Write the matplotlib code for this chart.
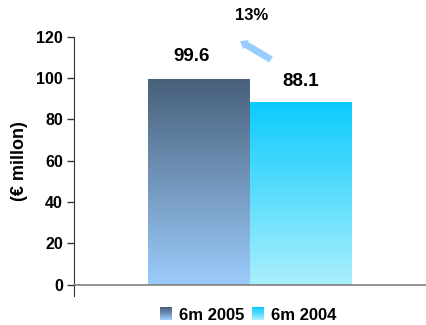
import numpy as np
import matplotlib
matplotlib.use("Agg")
import matplotlib.pyplot as plt
from matplotlib.colors import LinearSegmentedColormap
from matplotlib.patches import Rectangle
from matplotlib.legend_handler import HandlerBase

plt.rcParams['font.family'] = ['Liberation Sans', 'DejaVu Sans']
plt.rcParams['font.weight'] = 'bold'

categories = ["6m 2005", "6m 2004"]
values = [99.6, 88.1]
value_labels = ["99.6", "88.1"]
growth_label = "13%"
y_ticks = [0, 20, 40, 60, 80, 100, 120]
y_label = "(€ millon)"

# gradient colours (top, bottom)
grads = [("#48607a", "#9cccfc"), ("#0ccbfc", "#aaeffd")]

fig = plt.figure(figsize=(4.26, 3.25), dpi=100)
ax = fig.add_axes([0.174, 0.09, 0.826, 0.797])

x = np.arange(len(categories))
width = 1.0
bars = ax.bar(x, values, width=width, color='none', edgecolor='none', zorder=2)

for b, (top, bot) in zip(bars, grads):
    cmap = LinearSegmentedColormap.from_list("g", [bot, top])
    grad = np.linspace(0, 1, 256).reshape(-1, 1)
    x0, y0 = b.get_x(), b.get_y()
    w, h = b.get_width(), b.get_height()
    ax.imshow(grad, cmap=cmap, origin='lower', aspect='auto',
              extent=[x0, x0 + w, y0, y0 + h], zorder=2)

ax.set_xlim(-1.225, 2.226)
ax.set_ylim(-5.3, 120)
ax.set_yticks(y_ticks)
ax.set_yticklabels([str(t) for t in y_ticks], fontsize=11.5, fontweight='bold')
ax.set_xticks([])
ax.tick_params(axis='y', direction='out', length=5, width=1, color='#333333', pad=3)
for s in ['top', 'right', 'bottom']:
    ax.spines[s].set_visible(False)
ax.spines['left'].set_color('#333333')
ax.axhline(0, color='#808080', lw=1.2, zorder=3)

# value labels
ax.text(x[0] - 0.07, 110.5, value_labels[0], ha='center', va='center',
        fontsize=13.5, fontweight='bold')
ax.text(x[1] + 0.0, 98.5, value_labels[1], ha='center', va='center',
        fontsize=13.5, fontweight='bold')

# growth arrow and label
fig.text(252 / 426, 1 - 16 / 325, growth_label, ha='center', va='center',
         fontsize=12, fontweight='bold')
ax.annotate("", xy=(0.38, 118.5), xytext=(0.73, 108.3),
            arrowprops=dict(arrowstyle="simple,head_width=0.8,head_length=0.5,tail_width=0.5",
                            color="#99ccff", lw=0), annotation_clip=False)

fig.text(20 / 426, 1 - 161 / 325, y_label, rotation=90, ha='center', va='center',
         fontsize=13, fontweight='bold')


class GradHandler(HandlerBase):
    def __init__(self, top, bot):
        super().__init__()
        self.top, self.bot = top, bot

    def create_artists(self, legend, orig_handle, xdescent, ydescent, width,
                       height, fontsize, trans):
        cmap = LinearSegmentedColormap.from_list("g", [self.bot, self.top])
        n = 12
        arts = []
        hh = height * 1.1
        y0 = -ydescent - 0.05 * height
        for i in range(n):
            r = Rectangle((-xdescent + width * 0.15, y0 + hh * i / n), width * 0.7, hh / n + 0.3,
                          facecolor=cmap(i / (n - 1)), edgecolor='none', transform=trans)
            arts.append(r)
        return arts


handles = [Rectangle((0, 0), 1, 1) for _ in categories]
leg = fig.legend(handles, categories, loc='center', bbox_to_anchor=(247 / 426, 1 - 315 / 325),
                 ncol=2, frameon=False, handlelength=1.0, handletextpad=0.3,
                 columnspacing=0.3, borderpad=0,
                 handler_map={h: GradHandler(*g) for h, g in zip(handles, grads)},
                 prop={'weight': 'bold', 'size': 12})

fig.savefig("out.png", dpi=100)
